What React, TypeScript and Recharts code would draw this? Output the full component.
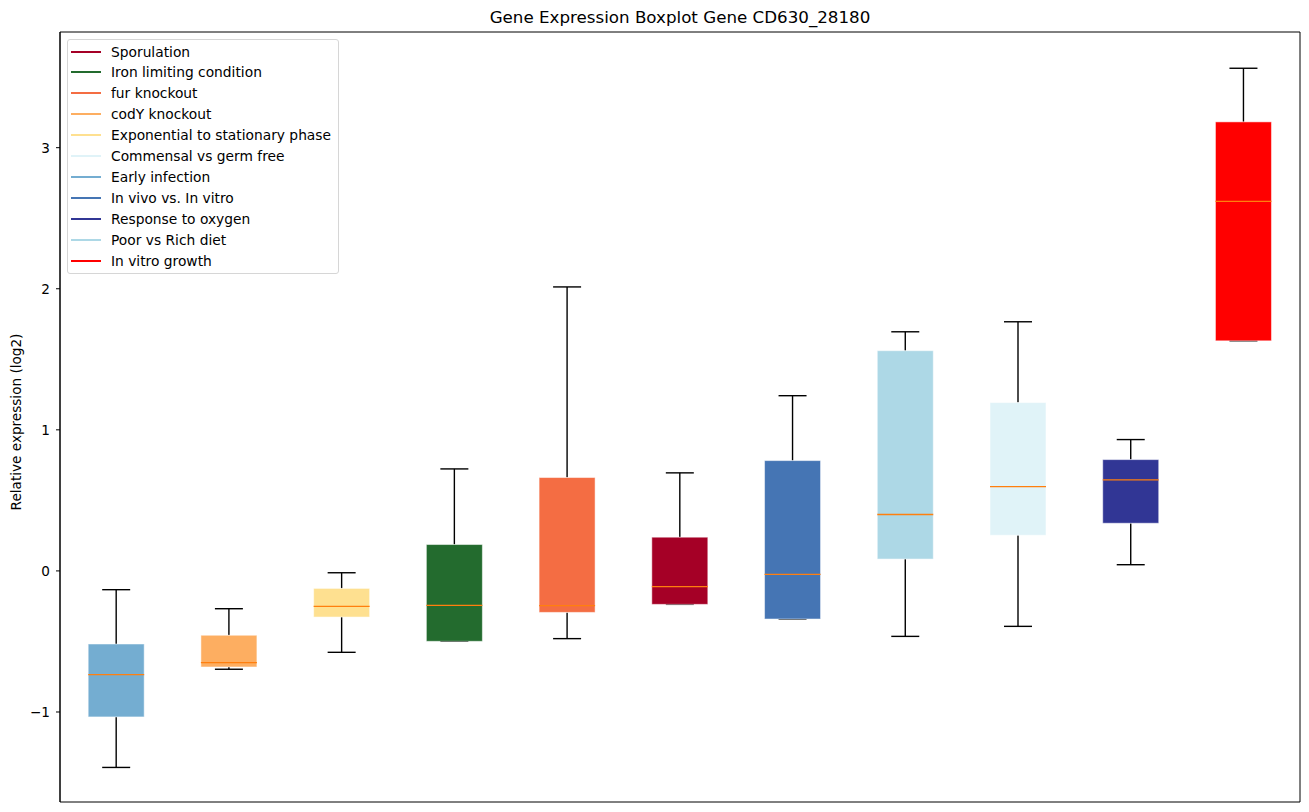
import React from 'react';
import { ComposedChart, Bar, XAxis, YAxis, ReferenceArea } from 'recharts';

const categories = [
  'Early infection',
  'codY knockout',
  'Exponential to stationary phase',
  'Iron limiting condition',
  'fur knockout',
  'Sporulation',
  'In vivo vs. In vitro',
  'Poor vs Rich diet',
  'Commensal vs germ free',
  'Response to oxygen',
  'In vitro growth',
];
const whiskerLow = [-1.393, -0.697, -0.577, -0.499, -0.48, -0.237, -0.341, -0.464, -0.393, 0.044, 1.631];
const q1 = [-1.035, -0.681, -0.327, -0.499, -0.294, -0.237, -0.341, 0.084, 0.253, 0.338, 1.631];
const median = [-0.735, -0.65, -0.251, -0.244, -0.246, -0.112, -0.025, 0.4, 0.598, 0.645, 2.62];
const q3 = [-0.518, -0.456, -0.124, 0.187, 0.662, 0.239, 0.782, 1.561, 1.193, 0.789, 3.183];
const whiskerHigh = [-0.133, -0.268, -0.013, 0.723, 2.013, 0.695, 1.242, 1.695, 1.766, 0.931, 3.563];
const boxColors = ['#74add1', '#fdae61', '#fee090', '#236b2e', '#f46d43', '#a50026', '#4575b4', '#add8e6', '#e0f3f8', '#313695', '#ff0000'];

const legendLabels = [
  'Sporulation',
  'Iron limiting condition',
  'fur knockout',
  'codY knockout',
  'Exponential to stationary phase',
  'Commensal vs germ free',
  'Early infection',
  'In vivo vs. In vitro',
  'Response to oxygen',
  'Poor vs Rich diet',
  'In vitro growth',
];
const legendColors = ['#a50026', '#236b2e', '#f46d43', '#fdae61', '#fee090', '#e0f3f8', '#74add1', '#4575b4', '#313695', '#add8e6', '#ff0000'];

const yTicks = [-1, 0, 1, 2, 3];
const yDomain: [number, number] = [-1.638, 3.82];

const data = categories.map((name, i) => ({
  name,
  range: [whiskerLow[i], whiskerHigh[i]],
  lo: whiskerLow[i],
  q1: q1[i],
  med: median[i],
  q3: q3[i],
  hi: whiskerHigh[i],
  color: boxColors[i],
}));

const BoxShape = (props: any) => {
  const { x, y, width, height, payload } = props;
  if (x == null || y == null || !payload) return null;
  const top = Math.min(y, y + height);
  const h = Math.abs(height);
  const { lo, hi } = payload;
  const py = (v: number) => (hi === lo ? top : top + (h * (hi - v)) / (hi - lo));
  const cx = x + width / 2;
  const capHalf = width / 4;
  const yLo = py(payload.lo);
  const yQ1 = py(payload.q1);
  const yMed = py(payload.med);
  const yQ3 = py(payload.q3);
  const yHi = py(payload.hi);
  return (
    <g>
      <line x1={cx} x2={cx} y1={yHi} y2={yQ3} stroke="#000" strokeWidth={1.4} />
      <line x1={cx} x2={cx} y1={yQ1} y2={yLo} stroke="#000" strokeWidth={1.4} />
      <line x1={cx - capHalf} x2={cx + capHalf} y1={yHi} y2={yHi} stroke="#000" strokeWidth={1.4} />
      <line x1={cx - capHalf} x2={cx + capHalf} y1={yLo} y2={yLo} stroke="#000" strokeWidth={1.4} />
      <rect x={x} y={yQ3} width={width} height={Math.max(yQ1 - yQ3, 0.5)} fill={payload.color} stroke="rgba(255,255,255,0.5)" strokeWidth={1} />
      <line x1={x} x2={x + width} y1={yMed} y2={yMed} stroke="#ff7f0e" strokeWidth={1.3} />
    </g>
  );
};

const fmt = (v: number) => (v < 0 ? '\u2212' + Math.abs(v) : String(v));

export default function App() {
  const font = '"DejaVu Sans", sans-serif';
  return (
    <div style={{ position: 'absolute', left: 0, top: 0, width: 1309, height: 812, background: '#fff', fontFamily: font }}>
      <div style={{ position: 'absolute', left: 60, top: 7, width: 1240, textAlign: 'center', fontSize: 16.7, lineHeight: '20px', color: '#000' }}>
        Gene Expression Boxplot Gene CD630_28180
      </div>
      <div
        style={{
          position: 'absolute',
          left: 16,
          top: 422,
          transform: 'translate(-50%, -50%) rotate(-90deg)',
          whiteSpace: 'nowrap',
          fontSize: 13.6,
          color: '#000',
        }}
      >
        Relative expression (log2)
      </div>
      <ComposedChart width={1309} height={812} data={data} margin={{ top: 32, right: 9, bottom: 10, left: 0 }} barCategoryGap="25%">
        <XAxis dataKey="name" hide />
        <YAxis
          domain={yDomain}
          ticks={yTicks}
          type="number"
          width={60}
          allowDataOverflow
          tickFormatter={fmt}
          tickSize={4}
          tickMargin={6}
          axisLine={{ stroke: '#000' }}
          tickLine={{ stroke: '#000' }}
          tick={{ fill: '#000', fontSize: 13.6, fontFamily: font }}
        />
        <ReferenceArea y1={yDomain[0]} y2={yDomain[1]} fill="none" stroke="#000" strokeWidth={1} ifOverflow="visible" />
        <Bar dataKey="range" isAnimationActive={false} shape={(p: any) => <BoxShape {...p} />} />
      </ComposedChart>
      <div
        style={{
          position: 'absolute',
          left: 67,
          top: 39,
          width: 272,
          height: 235,
          border: '1px solid #d6d6d6',
          borderRadius: 3,
          background: 'rgba(255,255,255,0.85)',
          boxSizing: 'border-box',
        }}
      >
        {legendLabels.map((label, i) => (
          <div key={label} style={{ position: 'absolute', left: 3, top: 1.5 + i * 20.9, height: 20, display: 'flex', alignItems: 'center' }}>
            <div style={{ width: 30, height: 2, background: legendColors[i] }} />
            <div style={{ marginLeft: 10, fontSize: 13.8, color: '#000', whiteSpace: 'nowrap' }}>{label}</div>
          </div>
        ))}
      </div>
    </div>
  );
}
